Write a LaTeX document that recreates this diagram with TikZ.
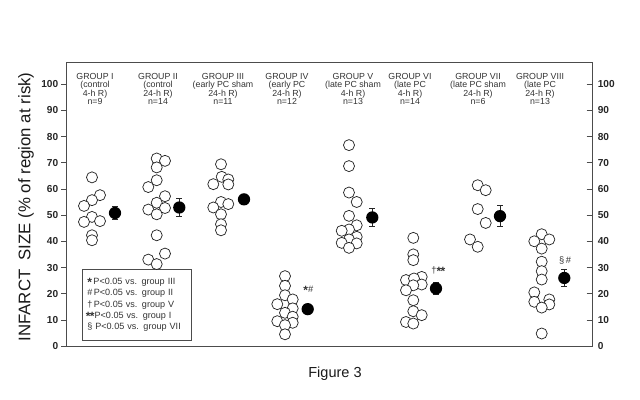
\documentclass[tikz,border=0pt]{standalone}
\usepackage{fontspec}
\setmainfont{Liberation Sans}
\newcommand{\stx}{\raisebox{-0.45ex}{\fontsize{9}{9}\selectfont\bfseries *}}
\begin{document}
\begin{tikzpicture}[x=0.75pt,y=-0.75pt,
  frame/.style={draw=black!70,line width=0.6pt},
  oc/.style={circle,draw=black!85,fill=white,line width=0.55pt,minimum size=8.3pt,inner sep=0pt},
  fc/.style={circle,fill=black,minimum size=9.2pt,inner sep=0pt},
  ebar/.style={draw=black!85,line width=0.5pt},
  grp/.style={align=center,text=black!80,font=\fontsize{6.6}{6.3}\selectfont,inner sep=0pt},
  num/.style={font=\fontsize{7.6}{9}\selectfont\bfseries,text=black!85,inner sep=0pt},
  ann/.style={font=\fontsize{7}{8}\selectfont,text=black!80,inner sep=0pt}]
\useasboundingbox (0,0) rectangle (640,400);
% frame
\draw[frame] (66.7,62) rectangle (592.3,346.2);
% ticks and labels
\foreach \v in {0,10,...,100}{
  \draw[frame] (61,{346.2-2.62*\v}) -- (66.7,{346.2-2.62*\v});
  \draw[frame] (586.5,{346.2-2.62*\v}) -- (592.3,{346.2-2.62*\v});
  \node[num,anchor=east] (yl\v) at (58.5,{346.2-2.62*\v}) {\v};
  \node[num,anchor=west] (yr\v) at (597.5,{346.2-2.62*\v}) {\v};
}
% axis title
\node[rotate=90,font=\fontsize{12.6}{14}\selectfont,text=black!90,inner sep=0pt] (ytitle) at (26,207) {INFARCT\ \ SIZE (\% of region at risk)};
\node[font=\fontsize{10.9}{12}\selectfont,text=black!90,inner sep=0pt] (fig) at (335,373.5) {Figure 3};
% group labels
\node[grp] (h1) at (95,89) {GROUP I\\(control\\4-h R)\\n=9};
\node[grp] (h2) at (158,89) {GROUP II\\(control\\24-h R)\\n=14};
\node[grp] (h3) at (223,89) {GROUP III\\(early PC sham\\24-h R)\\n=11};
\node[grp] (h4) at (287,89) {GROUP IV\\(early PC\\24-h R)\\n=12};
\node[grp] (h5) at (353,89) {GROUP V\\(late PC sham\\4-h R)\\n=13};
\node[grp] (h6) at (410,89) {GROUP VI\\(late PC\\4-h R)\\n=14};
\node[grp] (h7) at (478,89) {GROUP VII\\(late PC sham\\24-h R)\\n=6};
\node[grp] (h8) at (540,89) {GROUP VIII\\(late PC\\24-h R)\\n=13};
% legend
\node[draw=black!70,line width=0.6pt,anchor=north west,minimum width=81.8pt,minimum height=53pt,
  text width=76pt,inner xsep=2.6pt,align=left,text=black!80,
  font=\fontsize{6.8}{8.5}\selectfont] (legend) at (81.7,269.3)
  {\hspace*{1pt}\stx\,P<0.05 vs. group III\\
   \hspace*{1pt}\#\,P<0.05 vs. group II\\
   \hspace*{1pt}†\,P<0.05 vs. group V\\
   \stx\kern-0.5pt\stx P<0.05 vs. group I\\
   \hspace*{1pt}§ P<0.05 vs. group VII};
% data
\begin{scope}[y=1.965pt,shift={(0pt,-260.15pt)}]
  \foreach \x/\v [count=\i] in {92/64.7,100/57.9,92/56,84/53.8,92/49.6,84/47.7,100/48,92/42.6,92/40.7}
    \node[oc] (a\i) at (\x,\v) {};
  \foreach \x/\v [count=\i] in {156.7/71.9,165/71,156.7/68.5,156.7/63.6,148.3/61,165/57.5,156.7/55,148.3/52.4,165/53,156.7/50.6,156.7/42.6,165/35.6,148.3/33.3,156.7/31.6}
    \node[oc] (b\i) at (\x,\v) {};
  \foreach \x/\v [count=\i] in {221/69.7,221.7/64.9,228.3/63.9,213.3/62.1,228.3/62,221/55.3,228.3/54.5,213.3/53.2,221/50.6,221/46.8,221/44.5}
    \node[oc] (c\i) at (\x,\v) {};
  \foreach \x/\v [count=\i] in {285/27,285/23.3,285/19.7,292.7/18.1,277.3/16.3,292.7/14.7,285/13,292.7/11.5,277.3/9.8,292.7/9.2,285/8.3,285/4.8}
    \node[oc] (d\i) at (\x,\v) {};
  \foreach \x/\v [count=\i] in {349/77,349/69,349/58.9,356.7/55.3,349/50,356.7/46.4,349/44.8,341.7/44.3,356.7/42,349/41,341.7/39.7,356.7/39.5,349/37.8}
    \node[oc] (e\i) at (\x,\v) {};
  \foreach \x/\v [count=\i] in {413.3/41.6,413.3/35.3,413.3/33.1,421.7/26.7,406/25.5,414/26.1,421.7/23.8,413.3/23.5,406/21.6,413.3/17.8,413.3/13.6,421.7/12.1,406/9.5,413.3/8.9}
    \node[oc] (f\i) at (\x,\v) {};
  \foreach \x/\v [count=\i] in {477.7/61.7,485.7/59.8,477.7/52.6,485.7/47.3,470/41,477.7/38.2}
    \node[oc] (g\i) at (\x,\v) {};
  \foreach \x/\v [count=\i] in {541.7/43,534.3/40.3,549.3/41,541.7/37.5,541.7/32.5,541.7/28.9,541.7/25.7,534.3/20.8,534.3/17.2,549.3/18.1,549.3/16.2,541.7/15,541.7/5.1}
    \node[oc] (h\i) at (\x,\v) {};
  % means with error bars
  \foreach \x/\m/\e [count=\i] in {115/51.1/2.4,179.3/53.2/3.5,244/56.3/1.5,307.7/14.4/1,372.3/49.4/3.3,436/22.3/2.2,500/49.9/4,564.3/26.3/3.2}{
    \draw[ebar] (\x,\m-\e) -- (\x,\m+\e);
    \draw[ebar] (\x-3,\m-\e) -- (\x+3,\m-\e);
    \draw[ebar] (\x-3,\m+\e) -- (\x+3,\m+\e);
    \node[fc] (m\i) at (\x,\m) {};
  }
  \node[ann] (s4) at (308.3,21.6) {\stx\#};
  \node[ann] (s6) at (438.3,29) {†\stx\kern-0.5pt\stx};
  \node[ann] (s8) at (565,33) {§\,\#};
\end{scope}
\end{tikzpicture}
\end{document}
